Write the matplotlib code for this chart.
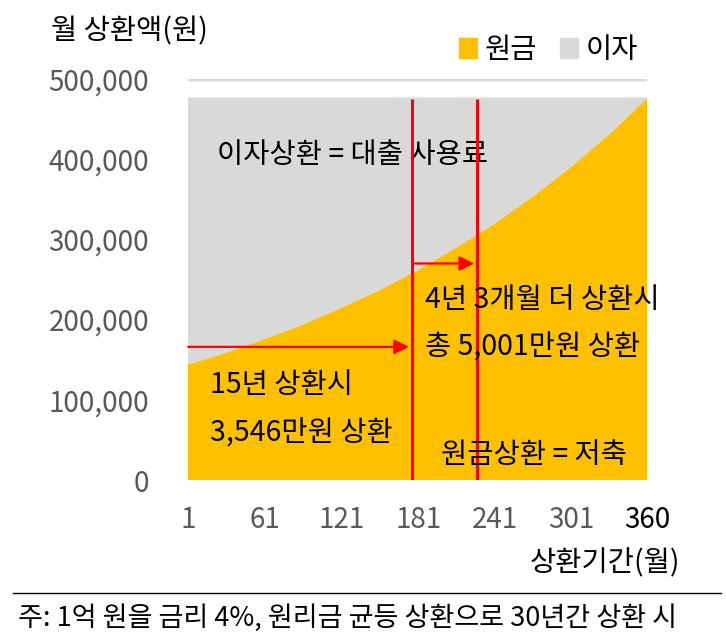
import matplotlib
matplotlib.use("Agg")
import matplotlib.pyplot as plt
from matplotlib.patches import Patch
from matplotlib.lines import Line2D

plt.rcParams['font.family'] = ['Noto Sans CJK KR', 'DejaVu Sans']
plt.rcParams['font.weight'] = 'light'

# values (monthly payment split, won)
months = [1, 31, 61, 91, 121, 151, 181, 211, 241, 271, 301, 331, 360]
principal = [144000, 159000, 176000, 194000, 215000, 237000, 262000,
             290000, 320000, 354000, 391000, 432000, 476000]
interest = [333000, 318000, 301000, 283000, 262000, 240000, 215000,
            187000, 157000, 123000, 86000, 45000, 1000]

x_ticks = [1, 61, 121, 181, 241, 301, 360]
y_ticks = [0, 100000, 200000, 300000, 400000, 500000]

# repayment markers: 15 years vs. 4y3m longer
mark_15y = 176
mark_extra = 227
arrow_15y_y = 166000
arrow_extra_y = 270000

ORANGE = '#FFC000'
GRAY = '#D9D9D9'
TICK_GRAY = '#595959'

W, H = 726, 638
fig = plt.figure(figsize=(W / 100, H / 100), dpi=100)
ax = fig.add_axes([188 / W, 1 - 480 / H, (647 - 188) / W, (480 - 79) / H])

ax.stackplot(months, principal, interest, colors=[ORANGE, GRAY], zorder=2)

ax.set_xlim(1, 360)
ax.set_ylim(0, 500000)
ax.set_xticks(x_ticks)
ax.set_xticklabels([str(t) for t in x_ticks])
ax.set_yticks(y_ticks)
ax.set_yticklabels([f'{t:,}' for t in y_ticks])
ax.tick_params(length=0, labelsize=20, colors=TICK_GRAY)
ax.tick_params(axis='y', pad=28)
ax.tick_params(axis='x', pad=18)
ax.get_xticklabels()[-1].set_color('black')
for s in ax.spines.values():
    s.set_visible(False)
ax.yaxis.grid(True, color=GRAY, lw=2.5, zorder=0)
ax.set_axisbelow(True)

# red guide lines
ax.vlines([mark_15y, mark_extra], 0, 475000, color='red', lw=2.2, zorder=4)
ax.annotate('', xy=(mark_15y, arrow_15y_y), xytext=(-1, arrow_15y_y),
            arrowprops=dict(arrowstyle='-|>', color='red', lw=1.6, mutation_scale=22),
            annotation_clip=False, zorder=5)
ax.annotate('', xy=(mark_extra, arrow_extra_y), xytext=(mark_15y, arrow_extra_y),
            arrowprops=dict(arrowstyle='-|>', color='red', lw=1.6, mutation_scale=22),
            zorder=5)

fs = 20.5
ax.text(24, 405000, '이자상환 = 대출 사용료', fontsize=fs, va='center', zorder=3)
ax.text(186, 225000, '4년 3개월 더 상환시', fontsize=fs, va='center', zorder=6)
ax.text(186, 165000, '총 5,001만원 상환', fontsize=fs, va='center', zorder=6)
ax.text(18, 118000, '15년 상환시', fontsize=fs, va='center', zorder=6)
ax.text(18, 58000, '3,546만원 상환', fontsize=fs, va='center', zorder=6)
ax.text(199, 31000, '원금상환 = 저축', fontsize=fs, va='center', zorder=6)

fig.text(51 / W, 1 - 31 / H, '월 상환액(원)', fontsize=20.5, va='center')
fig.text(680 / W, 1 - 563 / H, '상환기간(월)', fontsize=20.5, va='center', ha='right')

handles = [Patch(color=ORANGE, label='원금'), Patch(color=GRAY, label='이자')]
fig.legend(handles=handles, loc='center right', bbox_to_anchor=(638 / W, 1 - 50 / H),
           ncol=2, frameon=False, fontsize=20.5, handlelength=0.65, handleheight=0.65,
           handletextpad=0.25, columnspacing=0.8, borderpad=0, borderaxespad=0)

fig.add_artist(Line2D([13 / W, 721 / W], [1 - 593 / H] * 2, color='black', lw=1))
fig.text(18 / W, 1 - 618 / H, '주: 1억 원을 금리 4%, 원리금 균등 상환으로 30년간 상환 시',
         fontsize=19.5, va='center')

fig.savefig('out.png', dpi=100)
plt.close(fig)
